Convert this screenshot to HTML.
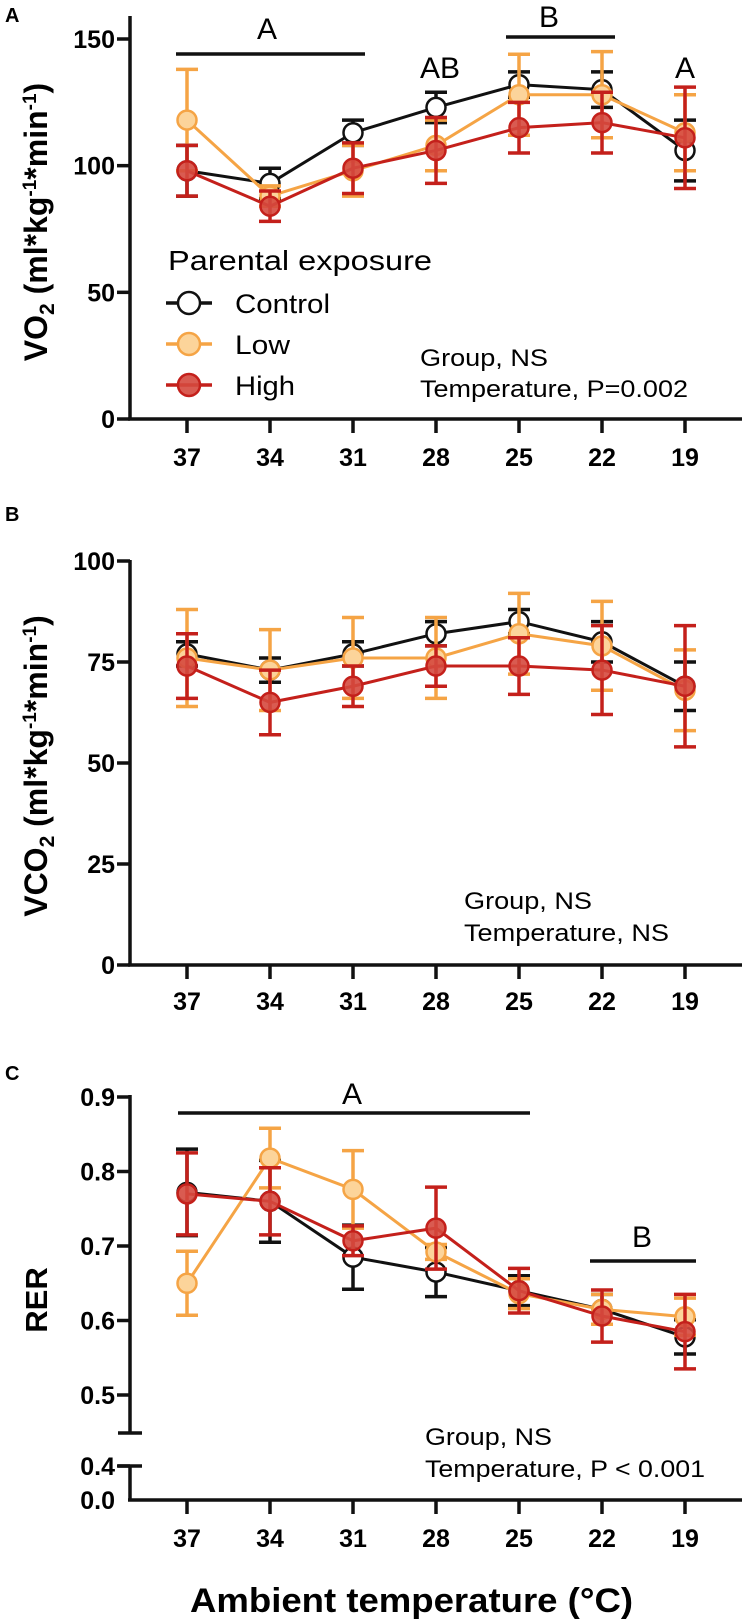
<!DOCTYPE html>
<html><head><meta charset="utf-8"><style>
html,body{margin:0;padding:0;background:#fff;}
svg{display:block;font-family:"Liberation Sans",Arial,sans-serif;}
</style></head><body>
<svg id="chart" width="742" height="1623" viewBox="0 0 742 1623"></svg>
<script>
const categories = ["37","34","31","28","25","22","19"];
// Panel A VO2
const aControl = [98,93,113,123,132,130,106];
const aControlErr = [10,6,5,6,5,7,12];
const aLow = [118,88,98,108,128,128,113];
const aLowErr = [20,4,10,10,16,17,15];
const aHigh = [98,84,99,106,115,117,111];
const aHighErr = [10,6,10,13,10,12,20];
// Panel B VCO2
const bControl = [77,73,77,82,85,80,69];
const bControlErr = [3,3,3,3,3,5,6];
const bLow = [76,73,76,76,82,79,68];
const bLowErr = [12,10,10,10,10,11,10];
const bHigh = [74,65,69,74,74,73,69];
const bHighErr = [8,8,5,5,7,11,15];
// Panel C RER
const cControl = [0.772,0.76,0.685,0.665,0.64,0.615,0.578];
const cControlErr = [0.058,0.055,0.043,0.033,0.02,0.02,0.023];
const cLow = [0.65,0.818,0.776,0.692,0.636,0.615,0.605];
const cLowErr = [0.043,0.04,0.052,0.01,0.02,0.02,0.025];
const cHigh = [0.77,0.76,0.707,0.724,0.64,0.606,0.585];
const cHighErr = [0.055,0.045,0.02,0.055,0.03,0.035,0.05];
const aTicks = [0,50,100,150];
const bTicks = [0,25,50,75,100];
const cTicks = [0.5,0.6,0.7,0.8,0.9];

const NS="http://www.w3.org/2000/svg";
const svg=document.getElementById('chart');
function el(tag,attrs,parent){const e=document.createElementNS(NS,tag);for(const k in attrs)e.setAttribute(k,attrs[k]);(parent||svg).appendChild(e);return e;}
function txt(s,attrs,parent){const t=el('text',attrs,parent);t.textContent=s;return t;}
function ltxt(s,x,y,size,len,parent){return txt(s,{x:x,y:y,'font-size':size,textLength:len,lengthAdjust:'spacingAndGlyphs'},parent);}
const xScale=i=>187+i*83;
const AX=130;
const styles={
 control:{stroke:"#111",fill:"#fff",op:1},
 low:{stroke:"#f5a445",fill:"#fcd49a",op:1},
 high:{stroke:"#c4201b",fill:"#d5493e",op:0.9}
};
function series(g,name,vals,errs,y){
  const s=styles[name];
  const sg=el('g',{},g);
  
  
  vals.forEach((v,i)=>{
    const x=xScale(i);
    const e=el('path',{d:`M${x} ${y(v+errs[i])}V${y(v-errs[i])}M${x-11} ${y(v+errs[i])}h22M${x-11} ${y(v-errs[i])}h22`,stroke:s.stroke,'stroke-width':3.5,fill:'none'},sg);
    
    
  });
  const p=el('polyline',{points:vals.map((v,i)=>xScale(i)+','+y(v)).join(' '),stroke:s.stroke,'stroke-width':3,fill:'none'},sg);
  
  
  vals.forEach((v,i)=>{
    const c=el('circle',{cx:xScale(i),cy:y(v),r:9.5,fill:s.fill,'fill-opacity':s.op,stroke:s.stroke,'stroke-width':2.5},sg);
    
    
  });
}
function xAxis(g,y0,labelY){
  const l=el('line',{x1:AX-2,x2:742,y1:y0,y2:y0,stroke:'#111','stroke-width':3.5},g);
  
  
  categories.forEach((c,i)=>{
    el('line',{x1:xScale(i),x2:xScale(i),y1:y0,y2:y0+14,stroke:'#111','stroke-width':3.5},g);
    const t=txt(c,{x:xScale(i),y:labelY,'text-anchor':'middle','font-size':25,'font-weight':'bold'},g);
    
    
  });
}
function yTicks(g,ticks,y,fmt){
  ticks.forEach(t=>{
    el('line',{x1:AX-13,x2:AX,y1:y(t),y2:y(t),stroke:'#111','stroke-width':3.5},g);
    const l=txt(fmt(t),{x:AX-15,y:y(t)+9,'text-anchor':'end','font-size':25,'font-weight':'bold'},g);
    
    
  });
}
function bar(g,x1,x2,yy,label,ly,lx){
  el('line',{x1:x1,x2:x2,y1:yy,y2:yy,stroke:'#111','stroke-width':3.5},g);
  const t=txt(label,{x:lx,y:ly,'text-anchor':'middle','font-size':30},g);
  
  
}

// Panel A
(function(){
  const g=el('g',{});
  
  
  const y=v=>419-v*(380/150);
  txt('A',{x:5,y:22,'font-size':20,'font-weight':'bold'},g);
  el('line',{x1:AX,x2:AX,y1:16,y2:419,stroke:'#111','stroke-width':3.5},g);
  yTicks(g,aTicks,y,v=>String(v));
  xAxis(g,419,466);
  const yt=txt('',{transform:'translate(47,222) rotate(-90)','text-anchor':'middle','font-size':32,'font-weight':'bold'},g);
  yt.innerHTML='VO<tspan font-size="21" dy="7">2</tspan><tspan dy="-7"> (ml*kg</tspan><tspan font-size="19" dy="-11">-1</tspan><tspan dy="11">*min</tspan><tspan font-size="19" dy="-11">-1</tspan><tspan dy="11">)</tspan>';
  
  
  bar(g,176,365,54,'A',39,267);
  bar(g,506,615,37,'B',27,549);
  bar(g,0,0,-10,'AB',78,440);
  bar(g,0,0,-10,'A',78,685);
  series(g,'control',aControl,aControlErr,y);
  series(g,'low',aLow,aLowErr,y);
  series(g,'high',aHigh,aHighErr,y);
  const lg=el('g',{},g);
  
  
  ltxt('Parental exposure',168,270,28,264,lg);
  [['control','Control',303,95],['low','Low',344,55],['high','High',385,60]].forEach(([k,n,yy,w])=>{
    const s=styles[k];
    const e=el('g',{},lg);
    
    
    el('line',{x1:166,x2:212,y1:yy,y2:yy,stroke:s.stroke,'stroke-width':3.5},e);
    el('circle',{cx:189,cy:yy,r:11,fill:s.fill,'fill-opacity':s.op,stroke:s.stroke,'stroke-width':2.5},e);
    ltxt(n,235,yy+10,27,w,e);
  });
  const st=ltxt('Group, NS',420,366,24,128,g);
  
  
  const st2=ltxt('Temperature, P=0.002',420,397,24,268,g);
  
  
})();

// Panel B
(function(){
  const g=el('g',{});
  
  
  const y=v=>965-v*4.04;
  txt('B',{x:5,y:521,'font-size':20,'font-weight':'bold'},g);
  el('line',{x1:AX,x2:AX,y1:560,y2:965,stroke:'#111','stroke-width':3.5},g);
  yTicks(g,bTicks,y,v=>String(v));
  xAxis(g,965,1010);
  const yt=txt('',{transform:'translate(47,766) rotate(-90)','text-anchor':'middle','font-size':32,'font-weight':'bold'},g);
  yt.innerHTML='VCO<tspan font-size="21" dy="7">2</tspan><tspan dy="-7"> (ml*kg</tspan><tspan font-size="19" dy="-11">-1</tspan><tspan dy="11">*min</tspan><tspan font-size="19" dy="-11">-1</tspan><tspan dy="11">)</tspan>';
  
  
  series(g,'control',bControl,bControlErr,y);
  series(g,'low',bLow,bLowErr,y);
  series(g,'high',bHigh,bHighErr,y);
  const st=ltxt('Group, NS',464,909,24,128,g);
  
  
  const st2=ltxt('Temperature, NS',464,941,24,205,g);
  
  
})();

// Panel C
(function(){
  const g=el('g',{});
  
  
  const y=v=>1097+(0.9-v)*745;
  txt('C',{x:5,y:1080,'font-size':20,'font-weight':'bold'},g);
  el('line',{x1:AX,x2:AX,y1:1095,y2:1433,stroke:'#111','stroke-width':3.5},g);
  el('line',{x1:AX-12,x2:AX+12,y1:1433,y2:1433,stroke:'#111','stroke-width':3.5},g);
  el('line',{x1:AX,x2:AX,y1:1466,y2:1500,stroke:'#111','stroke-width':3.5},g);
  el('line',{x1:AX-12,x2:AX+12,y1:1466,y2:1466,stroke:'#111','stroke-width':3.5},g);
  yTicks(g,cTicks,y,v=>v.toFixed(1));
  el('line',{x1:AX-13,x2:AX,y1:1466,y2:1466,stroke:'#111','stroke-width':3.5},g);
  txt('0.4',{x:AX-15,y:1475,'text-anchor':'end','font-size':25,'font-weight':'bold'},g);
  txt('0.0',{x:AX-15,y:1509,'text-anchor':'end','font-size':25,'font-weight':'bold'},g);
  xAxis(g,1500,1547);
  const yt=txt('RER',{transform:'translate(47,1300) rotate(-90)','text-anchor':'middle','font-size':31,'font-weight':'bold'},g);
  
  
  bar(g,178,530,1113,'A',1104,352);
  bar(g,590,696,1261,'B',1247,642);
  series(g,'control',cControl,cControlErr,y);
  series(g,'low',cLow,cLowErr,y);
  series(g,'high',cHigh,cHighErr,y);
  const st=ltxt('Group, NS',425,1445,24,127,g);
  
  
  const st2=ltxt('Temperature, P < 0.001',425,1477,24,280,g);
  
  
  const xt=txt('Ambient temperature (°C)',{x:190,y:1612,'font-size':34,'font-weight':'bold',textLength:443,lengthAdjust:'spacingAndGlyphs'},g);
  
  
})();
</script>
</body></html>
